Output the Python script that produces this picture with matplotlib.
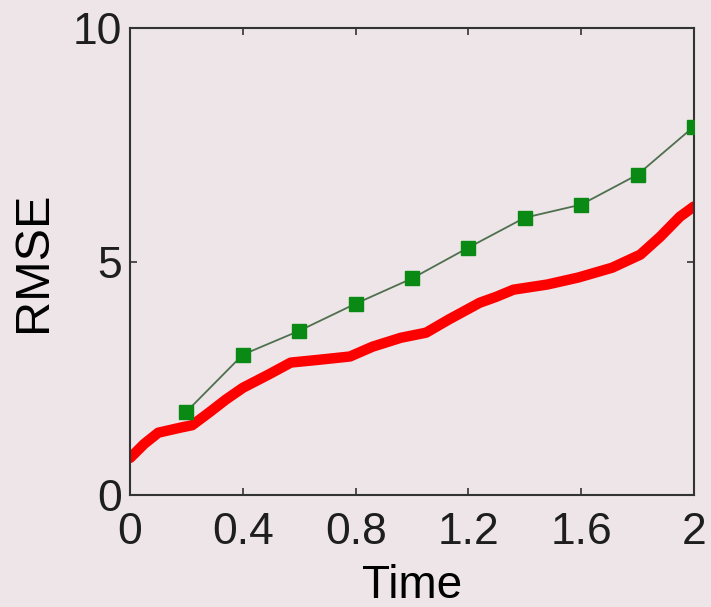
import matplotlib.pyplot as plt

# Error curves over time
t_fine = [0.0, 0.05, 0.10, 0.18, 0.22, 0.28, 0.34, 0.40, 0.49, 0.57, 0.67,
          0.78, 0.86, 0.96, 1.05, 1.13, 1.24, 1.30, 1.36, 1.48, 1.59, 1.71,
          1.81, 1.88, 1.95, 2.0]
rmse_fine = [0.80, 1.10, 1.34, 1.45, 1.50, 1.77, 2.05, 2.30, 2.58, 2.84, 2.90,
             2.97, 3.18, 3.37, 3.48, 3.76, 4.12, 4.25, 4.40, 4.51, 4.66, 4.87,
             5.15, 5.53, 5.96, 6.18]

t_coarse = [0.2, 0.4, 0.6, 0.8, 1.0, 1.2, 1.4, 1.6, 1.8, 2.0]
rmse_coarse = [1.79, 3.01, 3.52, 4.10, 4.64, 5.30, 5.94, 6.22, 6.86, 7.89]

xticks = [0, 0.4, 0.8, 1.2, 1.6, 2]
xtick_labels = ["0", "0.4", "0.8", "1.2", "1.6", "2"]
yticks = [0, 5, 10]

bg = "#ede5e7"
plt.rcParams["font.family"] = ["Liberation Sans", "DejaVu Sans"]
plt.rcParams["text.color"] = "#1e1e1e"

fig = plt.figure(figsize=(7.11, 6.07), dpi=100, facecolor=bg)
ax = fig.add_axes([0.183, 0.184, 0.793, 0.770], facecolor=bg)

ax.plot(t_fine, rmse_fine, color="#ff0000", linewidth=7.5,
        solid_capstyle="round", solid_joinstyle="round", zorder=2)
ax.plot(t_coarse, rmse_coarse, color="#4f6f4f", linewidth=1.3,
        marker="s", markersize=10, markerfacecolor="#0a8a14",
        markeredgecolor="#0a8a14", zorder=3)

ax.set_xlim(0, 2)
ax.set_ylim(0, 10)
ax.set_xticks(xticks)
ax.set_xticklabels(xtick_labels)
ax.set_yticks(yticks)

ax.tick_params(direction="in", length=5, width=1.2, color="#333333",
               labelcolor="#1e1e1e", labelsize=32, top=True, right=True, pad=6)
ax.tick_params(axis="x", pad=12)
for s in ax.spines.values():
    s.set_color("#333333")
    s.set_linewidth(1.5)

ax.set_xlabel("Time", fontsize=33, labelpad=8)
ax.set_ylabel("RMSE", fontsize=35, labelpad=12)

fig.savefig("out.png", dpi=100, facecolor=bg)
